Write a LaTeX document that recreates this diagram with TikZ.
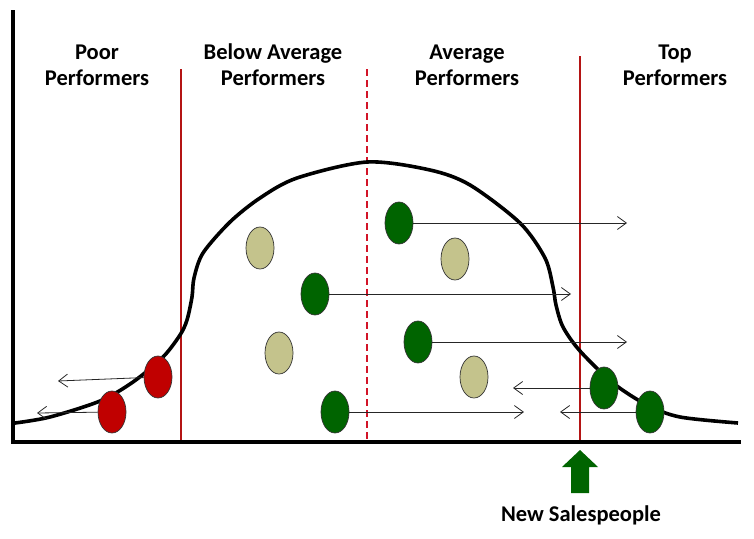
\documentclass[tikz,border=0pt]{standalone}
\usepackage{fontspec}
\setmainfont{Carlito}
\usetikzlibrary{arrows.meta,shapes.geometric}

\definecolor{perfgreen}{RGB}{0,100,0}
\definecolor{perfred}{RGB}{192,0,0}
\definecolor{perftan}{RGB}{196,195,140}
\definecolor{linered}{RGB}{180,20,20}
\definecolor{dashred}{RGB}{210,20,40}

\tikzset{
  perf/.style={ellipse, draw=black!80, line width=0.7pt, minimum width=28pt, minimum height=42pt, inner sep=0pt},
  redperf/.style={perf, fill=perfred},
  tanperf/.style={perf, fill=perftan},
  greenperf/.style={perf, fill=perfgreen},
  move/.style={draw=black!85, line width=0.8pt, -{Straight Barb[length=9pt,width=13pt]}},
  divider/.style={draw=linered, line width=1.6pt},
  grouplabel/.style={font=\fontsize{22.5}{26}\selectfont\bfseries, align=center}
}

\begin{document}
\begin{tikzpicture}[x=1pt,y=-1pt]
\useasboundingbox (0,0) rectangle (754,538);

% Dividers between the groups
\draw[divider] (181,69) -- (181,443);
\draw[divider, draw=dashred, dash pattern=on 7pt off 4pt] (367,69) -- (367,443);
\draw[divider] (580,56) -- (580,443);

% Distribution curve
\draw[line width=3.6pt, line join=round] plot[smooth, tension=0.5] coordinates {
  (15,423) (50,417) (100,401) (133,382) (163,357) (180,335) (187,320)
  (192,297) (194,278) (203,253) (230,222) (260,198) (297,178) (367,162)
  (430,170) (470,185) (520,223) (545,258) (553,287) (556,305) (563,327)
  (580,351) (613,383) (647,405) (680,417) (738,423)};

% Axes
\draw[line width=4pt] (13,10) -- (13,444);
\draw[line width=4pt] (11,442) -- (741,442);

% Group labels
\node[grouplabel] (poor) at (97,65) {Poor\\Performers};
\node[grouplabel] (below) at (273,65) {Below Average\\Performers};
\node[grouplabel] (average) at (467,65) {Average\\Performers};
\node[grouplabel] (topgroup) at (675,65) {Top\\Performers};

% Salespeople
\node[redperf] (r1) at (158,377) {};
\node[redperf] (r2) at (112,412) {};
\node[tanperf] (t1) at (260,248) {};
\node[tanperf] (t2) at (279,353) {};
\node[tanperf] (t3) at (455,259) {};
\node[tanperf] (t4) at (474,377) {};
\node[greenperf] (g1) at (399,223) {};
\node[greenperf] (g2) at (315,294) {};
\node[greenperf] (g3) at (418,342) {};
\node[greenperf] (g4) at (335,412) {};
\node[greenperf] (g5) at (604,388) {};
\node[greenperf] (g6) at (650,412) {};

% Where they are heading
\coordinate (r1end) at (58,381);
\coordinate (r2end) at (37,413);
\coordinate (g1end) at (627,223);
\coordinate (g2end) at (571,294);
\coordinate (g3end) at (627,342);
\coordinate (g4end) at (524,412);
\coordinate (g5end) at (513,388);
\coordinate (g6end) at (560,412);

\draw[move] (r1) -- (r1end);
\draw[move] (r2) -- (r2end);
\draw[move] (g1) -- (g1end);
\draw[move] (g2) -- (g2end);
\draw[move] (g3) -- (g3end);
\draw[move] (g4) -- (g4end);
\draw[move] (g5) -- (g5end);
\draw[move] (g6) -- (g6end);

% New salespeople enter here
\fill[perfgreen] (580,450) -- (598,467) -- (589,467) -- (589,493)
  -- (571,493) -- (571,467) -- (562,467) -- cycle;
\node[grouplabel] (newpeople) at (581,515) {New Salespeople};
\end{tikzpicture}
\end{document}
